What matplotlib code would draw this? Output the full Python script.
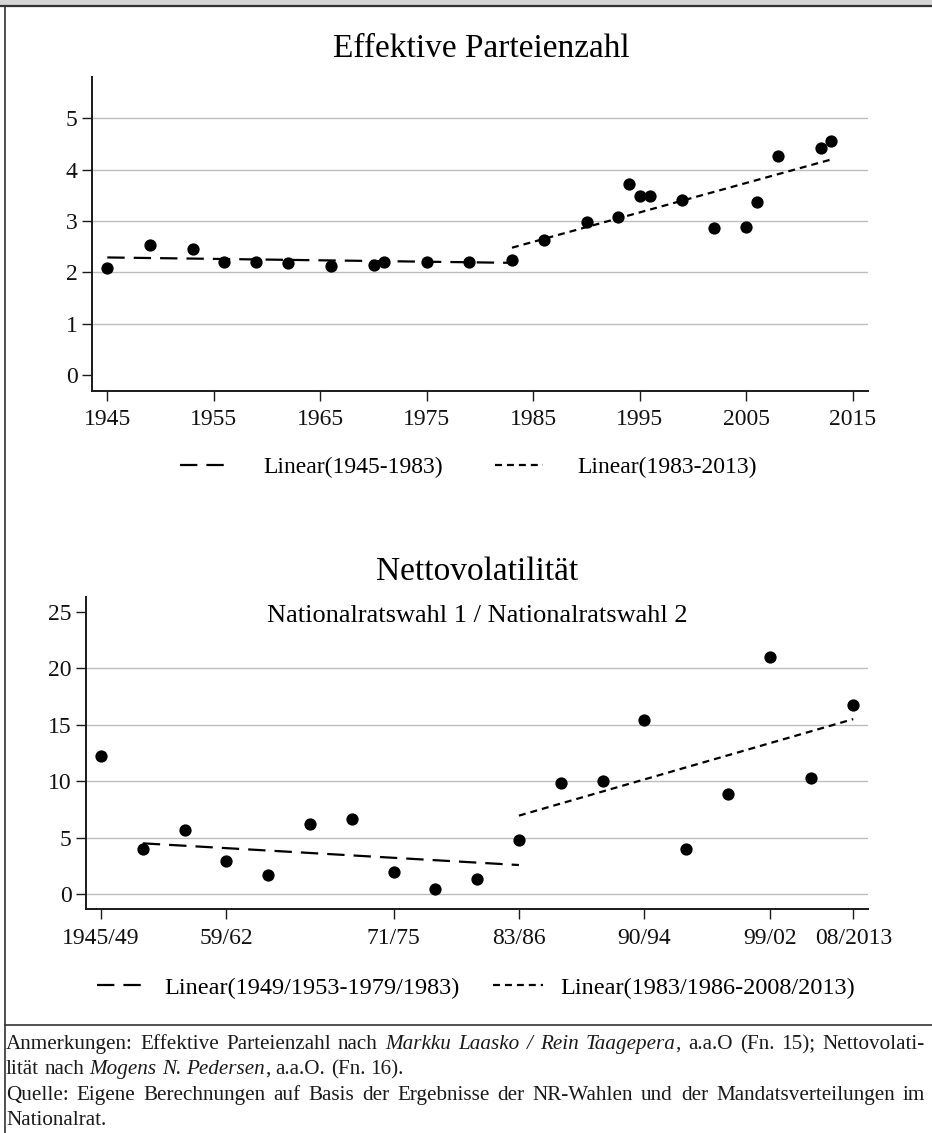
import matplotlib
matplotlib.use("Agg")
import matplotlib.pyplot as plt
from matplotlib.lines import Line2D
from matplotlib.patches import Rectangle

# ---------------------------------------------------------------- data
# Effective number of parties (Laakso/Taagepera), by election / seat change
enp_years = [1945, 1949, 1953, 1956, 1959, 1962, 1966, 1970, 1971, 1975, 1979,
             1983, 1986, 1990, 1993, 1994, 1995, 1996, 1999, 2002, 2005, 2006,
             2008, 2012, 2013]
enp_values = [2.09, 2.53, 2.46, 2.21, 2.20, 2.19, 2.13, 2.14, 2.21, 2.21, 2.21,
              2.25, 2.63, 2.98, 3.07, 3.73, 3.48, 3.48, 3.40, 2.87, 2.89, 3.37,
              4.26, 4.42, 4.55]
enp_trend1_years = [1945, 1983]
enp_trend1_values = [2.29, 2.185]
enp_trend2_years = [1983, 2013]
enp_trend2_values = [2.48, 4.20]
enp_ticks = [1945, 1955, 1965, 1975, 1985, 1995, 2005, 2015]

# Net volatility (Pedersen), pairs of consecutive elections
vol_values = [12.2, 4.04, 5.69, 2.95, 1.71, 6.22, 6.69, 2.0, 0.44, 1.35,
              4.83, 9.88, 10.05, 15.42, 4.01, 8.88, 21.0, 10.26, 16.75]
vol_tick_pos = [0, 3, 7, 10, 13, 16, 18]
vol_tick_labels = ["1945/49", "59/62", "71/75", "83/86", "90/94", "99/02", "08/2013"]
vol_trend1_pos = [1, 10]
vol_trend1_values = [4.51, 2.59]
vol_trend2_pos = [10, 18]
vol_trend2_values = [6.96, 15.5]

legend_top = ["Linear(1945-1983)", "Linear(1983-2013)"]
legend_bottom = ["Linear(1949/1953-1979/1983)", "Linear(1983/1986-2008/2013)"]

footer_lines = [
    ([("Anmerkungen: Effektive Parteienzahl nach ", False),
      ("Markku Laasko / Rein Taagepera", True),
      (", a.a.O (Fn. 15); Nettovolati-", False)], True),
    ([("lität nach ", False), ("Mogens N. Pedersen", True),
      (", a.a.O. (Fn. 16).", False)], False),
    ([("Quelle: Eigene Berechnungen auf Basis der Ergebnisse der NR-Wahlen "
       "und der Mandatsverteilungen im", False)], True),
    ([("Nationalrat.", False)], False),
]

# ---------------------------------------------------------------- style
W, H = 932, 1133
plt.rcParams["font.family"] = ["Liberation Serif", "DejaVu Serif"]
plt.rcParams["lines.scale_dashes"] = False
LONG_DASH = (0, (12.5, 6.5))
SHORT_DASH = (0, (5.0, 3.6))
TREND_LW = 1.6
GRID_C = "#bdbdbd"
AX_C = "#1a1a1a"


def fx(px):
    return px / W


def fy(py):
    return 1 - py / H


fig = plt.figure(figsize=(W / 100, H / 100), dpi=100)
fig.patch.set_facecolor("white")


def style_axes(ax, grid_vals):
    for s in ("top", "right"):
        ax.spines[s].set_visible(False)
    for s in ("left", "bottom"):
        ax.spines[s].set_linewidth(1.4)
        ax.spines[s].set_color(AX_C)
    ax.tick_params(axis="both", direction="out", length=7.5, width=1.0,
                   color=AX_C, labelsize=17, labelcolor="#111111")
    ax.tick_params(axis="x", pad=6)
    ax.tick_params(axis="y", pad=3)
    for v in grid_vals:
        ax.axhline(v, color=GRID_C, lw=1.0, zorder=0)
    ax.set_facecolor("none")


# ---- top panel: effective number of parties
ax1 = fig.add_axes([fx(92.3), fy(390.7), fx(868.3 - 92.3), (390.7 - 77.3) / H])
style_axes(ax1, [1, 2, 3, 4, 5])
ax1.set_xlim(1943.59, 2016.46)
ax1.set_ylim(-0.306, 5.80)
ax1.set_xticks(enp_ticks)
ax1.set_yticks([0, 1, 2, 3, 4, 5])
ax1.plot(enp_trend1_years, enp_trend1_values, color="black", lw=TREND_LW,
         ls=LONG_DASH, zorder=2)
ax1.plot(enp_trend2_years, enp_trend2_values, color="black", lw=TREND_LW,
         ls=SHORT_DASH, zorder=2)
ax1.scatter(enp_years, enp_values, s=78, color="black", zorder=3, linewidths=0)

# ---- bottom panel: net volatility
ax2 = fig.add_axes([fx(86), fy(909), fx(868.3 - 86), (909 - 596.7) / H])
style_axes(ax2, [0, 5, 10, 15, 20])
ax2.set_xlim(-0.359, 18.36)
ax2.set_ylim(-1.30, 26.33)
ax2.set_xticks(vol_tick_pos)
ax2.set_xticklabels(vol_tick_labels)
ax2.set_yticks([0, 5, 10, 15, 20, 25])
ax2.plot(vol_trend1_pos, vol_trend1_values, color="black", lw=TREND_LW,
         ls=LONG_DASH, zorder=2)
ax2.plot(vol_trend2_pos, vol_trend2_values, color="black", lw=TREND_LW,
         ls=SHORT_DASH, zorder=2)
ax2.scatter(range(len(vol_values)), vol_values, s=78, color="black",
            zorder=3, linewidths=0)

# ---- titles
fig.text(fx(481), fy(57), "Effektive Parteienzahl", ha="center",
         va="baseline", fontsize=24)
fig.text(fx(477), fy(580), "Nettovolatilität", ha="center",
         va="baseline", fontsize=24)
fig.text(fx(477), fy(621.5), "Nationalratswahl 1 / Nationalratswahl 2",
         ha="center", va="baseline", fontsize=19)

# ---- legends
handles = [Line2D([], [], color="black", lw=TREND_LW, ls=LONG_DASH),
           Line2D([], [], color="black", lw=TREND_LW, ls=SHORT_DASH)]
fig.legend(handles, legend_top, loc="center", ncol=2, frameon=False,
           bbox_to_anchor=(fx(468.5), fy(467)), fontsize=17,
           handlelength=2.05, handletextpad=1.45, columnspacing=2.2)
fig.legend(handles, legend_bottom, loc="center", ncol=2, frameon=False,
           bbox_to_anchor=(fx(476), fy(988)), fontsize=17.5,
           handlelength=2.05, handletextpad=0.7, columnspacing=1.4)

# ---- frame: header band, left rule, footer separator
fig.patches.append(Rectangle((0, fy(5)), 1, 5 / H, transform=fig.transFigure,
                             facecolor="#d6d6d6", edgecolor="none", zorder=0))
fig.add_artist(Line2D([0, 1], [fy(5.5), fy(5.5)], transform=fig.transFigure,
                      color="#333333", lw=1.6))
fig.add_artist(Line2D([fx(4.5), fx(4.5)], [fy(5.5), 0], transform=fig.transFigure,
                      color="#333333", lw=1.2))
fig.add_artist(Line2D([fx(4.5), 1], [fy(1025), fy(1025)], transform=fig.transFigure,
                      color="#333333", lw=1.2))

# ---- footer notes, set word by word so that full lines are justified
renderer = fig.canvas.get_renderer()
FOOT_SIZE = 15.2


def text_width(s, italic):
    t = fig.text(0, 0, s, fontsize=FOOT_SIZE, style="italic" if italic else "normal")
    w = t.get_window_extent(renderer).width
    t.remove()
    return w


space_w = text_width("a a", False) - text_width("aa", False)


def split_words(runs):
    words, cur = [], []
    for text, it in runs:
        parts = text.split(" ")
        for i, p in enumerate(parts):
            if i > 0 and cur:
                words.append(cur)
                cur = []
            if p:
                cur.append((p, it))
    if cur:
        words.append(cur)
    return words


x_left, x_right = 6.0, 925.0
baselines = [1049, 1074, 1100, 1125]
for (runs, justify), yb in zip(footer_lines, baselines):
    words = split_words(runs)
    widths = [[text_width(p, it) for p, it in w] for w in words]
    total = sum(sum(w) for w in widths)
    gap = space_w
    if justify and len(words) > 1:
        gap = (x_right - x_left - total) / (len(words) - 1)
    x = x_left
    for w, ws in zip(words, widths):
        for (p, it), pw in zip(w, ws):
            fig.text(fx(x), fy(yb), p, fontsize=FOOT_SIZE, va="baseline",
                     style="italic" if it else "normal", color="#1a1a1a")
            x += pw
        x += gap

fig.savefig("out.png", dpi=100)
